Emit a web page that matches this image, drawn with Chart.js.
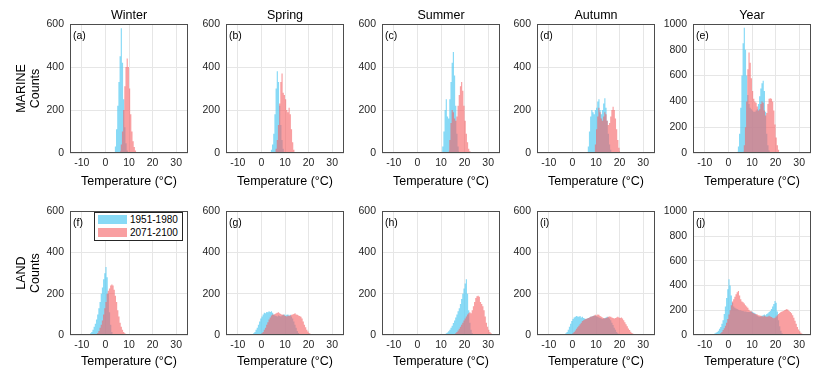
<!DOCTYPE html>
<html>
<head>
<meta charset="utf-8">
<script src="https://cdn.jsdelivr.net/npm/chart.js@4.4.1/dist/chart.umd.min.js"></script>
<style>
  html, body { margin: 0; padding: 0; background: #fff; }
  #page { position: relative; width: 830px; height: 373px; overflow: hidden; }
  #page canvas { position: absolute; }
  #legend {
    position: absolute; left: 94px; top: 212px; width: 89px; height: 29px;
    box-sizing: border-box; border: 1px solid #262626; background: #fff; z-index: 2;
    font: 10px 'Liberation Sans', Arial, sans-serif; color: #000;
  }
  #legend .row { position: absolute; left: 3px; height: 10px; line-height: 10px; white-space: nowrap; }
  #legend .sw { display: inline-block; width: 29px; height: 9px; vertical-align: top; margin-right: 3px; }
</style>
</head>
<body>
<div id="page">
  <div id="legend">
    <div class="row" style="top:2px"><span class="sw" id="swPast"></span><span id="lgPast"></span></div>
    <div class="row" style="top:15px"><span class="sw" id="swFuture"></span><span id="lgFuture"></span></div>
  </div>
</div>
<script>
// histogram bins are 0.5 °C wide; `from` is the centre of the first bin
var binWidth = 0.5;
var seasons = ['Winter', 'Spring', 'Summer', 'Autumn', 'Year'];
var periods = ['1951-1980', '2071-2100'];
var rowNames = ['MARINE', 'LAND'];
var letters = ['(a)', '(b)', '(c)', '(d)', '(e)', '(f)', '(g)', '(h)', '(i)', '(j)'];
var xTicks = [-10, 0, 10, 20, 30];
var xLabel = 'Temperature (°C)';

// marine, 1951-1980 (blue) and 2071-2100 (red)
var marineWinterPast = { from: 3.75, counts: [5, 30, 110, 220, 330, 450, 580, 420, 250, 120, 45, 12, 3] };
var marineWinterFuture = { from: 6.25, counts: [10, 40, 100, 200, 310, 400, 440, 400, 300, 180, 100, 55, 28, 12, 4] };
var marineSpringPast = { from: 3.75, counts: [5, 15, 40, 90, 180, 300, 380, 330, 220, 130, 60, 20, 5] };
var marineSpringFuture = { from: 5.75, counts: [5, 20, 60, 130, 230, 330, 370, 280, 270, 250, 200, 190, 210, 180, 110, 50, 15, 4] };
var marineSummerPast = { from: 10.25, counts: [5, 30, 100, 200, 250, 170, 160, 250, 330, 420, 470, 360, 220, 90, 30, 8] };
var marineSummerFuture = { from: 13.25, counts: [10, 60, 140, 200, 190, 160, 150, 170, 220, 270, 310, 330, 290, 220, 150, 90, 50, 20, 8, 3] };
var marineAutumnPast = { from: 6.25, counts: [5, 30, 100, 170, 200, 190, 180, 200, 210, 240, 250, 200, 180, 200, 230, 255, 210, 150, 90, 40, 15, 4] };
var marineAutumnFuture = { from: 9.25, counts: [5, 40, 110, 170, 210, 190, 160, 150, 170, 190, 180, 150, 130, 140, 170, 200, 215, 200, 160, 110, 60, 25, 8] };
var marineYearPast = { from: 3.75, counts: [10, 50, 150, 350, 600, 850, 970, 800, 600, 450, 380, 350, 340, 330, 320, 320, 330, 340, 380, 440, 500, 540, 560, 480, 320, 150, 60, 20, 5] };
var marineYearFuture = { from: 6.25, counts: [10, 60, 200, 400, 650, 780, 700, 580, 480, 420, 400, 390, 360, 330, 340, 380, 400, 390, 330, 290, 310, 380, 420, 425, 420, 400, 330, 220, 120, 60, 25, 8] };

// land
var landWinterPast = { from: -6.75, counts: [3, 8, 15, 25, 40, 55, 75, 100, 130, 160, 200, 230, 270, 300, 330, 280, 200, 110, 50, 15, 4] };
var landWinterFuture = { from: -3.75, counts: [3, 10, 20, 35, 50, 70, 100, 130, 160, 200, 215, 225, 240, 245, 240, 220, 190, 160, 120, 90, 60, 40, 25, 15, 8, 4, 2] };
var landSpringPast = { from: -3.75, counts: [3, 8, 15, 25, 35, 50, 65, 80, 90, 100, 108, 105, 112, 110, 115, 112, 115, 108, 100, 95, 92, 90, 95, 92, 90, 95, 98, 100, 95, 98, 100, 95, 98, 90, 80, 65, 50, 35, 20, 10, 4] };
var landSpringFuture = { from: -0.25, counts: [3, 8, 15, 25, 35, 50, 62, 75, 85, 95, 100, 98, 102, 105, 108, 110, 105, 102, 98, 100, 95, 92, 90, 95, 92, 95, 98, 100, 102, 105, 100, 98, 95, 92, 88, 80, 65, 50, 38, 26, 17, 10, 6, 3] };
var landSummerPast = { from: 11.75, counts: [3, 8, 12, 18, 25, 35, 45, 58, 70, 85, 100, 115, 130, 150, 175, 200, 225, 250, 270, 200, 120, 60, 25, 8, 3] };
var landSummerFuture = { from: 15.75, counts: [3, 8, 15, 22, 30, 40, 50, 60, 70, 80, 90, 100, 105, 110, 105, 120, 140, 160, 180, 188, 190, 185, 160, 150, 140, 120, 90, 60, 40, 25, 15, 8, 4, 2] };
var landAutumnPast = { from: -3.25, counts: [3, 8, 15, 25, 40, 55, 68, 78, 85, 88, 92, 90, 88, 92, 85, 88, 82, 80, 78, 80, 82, 85, 88, 90, 92, 95, 92, 90, 88, 85, 82, 80, 78, 80, 82, 85, 88, 85, 80, 72, 60, 48, 35, 25, 15, 8, 3] };
var landAutumnFuture = { from: -0.25, counts: [3, 8, 15, 22, 30, 38, 45, 52, 60, 68, 72, 75, 78, 80, 82, 85, 88, 90, 92, 95, 98, 95, 100, 98, 92, 88, 85, 82, 80, 82, 85, 88, 90, 88, 85, 82, 80, 82, 85, 88, 85, 82, 85, 80, 72, 62, 52, 42, 32, 24, 16, 10, 6, 3] };
var landYearPast = { from: -6.75, counts: [3, 8, 12, 18, 25, 35, 50, 65, 90, 120, 170, 230, 300, 370, 450, 400, 320, 260, 230, 220, 215, 210, 205, 200, 200, 195, 195, 190, 190, 188, 185, 185, 185, 190, 185, 180, 175, 165, 155, 150, 148, 150, 155, 160, 165, 160, 170, 175, 185, 195, 210, 230, 250, 275, 260, 190, 120, 70, 35, 15, 5] };
var landYearFuture = { from: -4.25, counts: [3, 8, 15, 25, 40, 55, 75, 100, 130, 165, 200, 240, 270, 290, 310, 330, 345, 355, 320, 290, 270, 265, 255, 240, 230, 220, 205, 195, 190, 180, 175, 170, 168, 165, 160, 158, 155, 152, 150, 155, 150, 148, 150, 155, 150, 145, 140, 135, 140, 150, 160, 170, 178, 185, 190, 195, 200, 205, 210, 205, 195, 185, 175, 160, 140, 115, 90, 65, 45, 30, 18, 10, 5] };

var yMaxes = [600, 600, 600, 600, 1000];

var rows = [
  [[marineWinterPast, marineWinterFuture], [marineSpringPast, marineSpringFuture], [marineSummerPast, marineSummerFuture], [marineAutumnPast, marineAutumnFuture], [marineYearPast, marineYearFuture]],
  [[landWinterPast, landWinterFuture], [landSpringPast, landSpringFuture], [landSummerPast, landSummerFuture], [landAutumnPast, landAutumnFuture], [landYearPast, landYearFuture]]
];

var blueFill = 'rgba(90, 204, 242, 0.72)';
var redFill = 'rgba(245, 95, 98, 0.6)';
var gridColor = '#e6e6e6';
var axisColor = '#4d4d4d';

Chart.defaults.font.family = "'Liberation Sans', Arial, sans-serif";
Chart.defaults.color = '#262626';

document.getElementById('swPast').style.background = blueFill;
document.getElementById('swFuture').style.background = redFill;
document.getElementById('lgPast').textContent = periods[0];
document.getElementById('lgFuture').textContent = periods[1];

function toPoints(h) {
  return h.counts.map(function(c, i) { return { x: h.from + i * binWidth, y: c }; });
}

// box around the axes + panel letter
var framePlugin = {
  id: 'frame',
  afterDatasetsDraw: function(chart, args, opts) {
    var ctx = chart.ctx, a = chart.chartArea;
    ctx.save();
    ctx.strokeStyle = axisColor;
    ctx.lineWidth = 1;
    ctx.strokeRect(Math.round(a.left) + 0.5, Math.round(a.top) + 0.5,
                   Math.round(a.right - a.left) - 1, Math.round(a.bottom - a.top) - 1);
    ctx.fillStyle = '#000';
    ctx.font = "10.5px 'Liberation Sans', Arial, sans-serif";
    ctx.textBaseline = 'middle';
    ctx.fillText(opts.letter, a.left + 3, a.top + 12);
    ctx.restore();
  }
};

var plotLefts = [70, 226, 382, 537, 693];
var plotWidth = 118;
var page = document.getElementById('page');

rows.forEach(function(hists, row) {
  hists.forEach(function(pair, col) {
    var L = col === 0 ? 70 : 42, R = 8;
    var canvas = document.createElement('canvas');
    canvas.width = L + plotWidth + R;
    canvas.height = row === 0 ? 195 : 174;
    canvas.style.left = (plotLefts[col] - L) + 'px';
    canvas.style.top = (row === 0 ? 0 : 199) + 'px';
    page.appendChild(canvas);

    new Chart(canvas, {
      type: 'line',
      data: {
        datasets: [
          { label: periods[1], data: toPoints(pair[1]), backgroundColor: redFill, borderColor: 'rgba(0,0,0,0)',
            borderWidth: 0, fill: 'origin', stepped: 'middle', pointRadius: 0, order: 0 },
          { label: periods[0], data: toPoints(pair[0]), backgroundColor: blueFill, borderColor: 'rgba(0,0,0,0)',
            borderWidth: 0, fill: 'origin', stepped: 'middle', pointRadius: 0, order: 1 }
        ]
      },
      options: {
        responsive: false,
        devicePixelRatio: 1,
        animation: false,
        events: [],
        layout: { padding: { top: row === 0 ? 0 : 7, right: R, bottom: 0, left: 0 } },
        plugins: {
          legend: { display: false },
          tooltip: { enabled: false },
          title: {
            display: row === 0, text: seasons[col], color: '#000', fullSize: false,
            font: { size: 12.5, weight: 'normal', lineHeight: 1.2 }, padding: { top: 8, bottom: 1 }
          },
          frame: { letter: letters[row * 5 + col] }
        },
        scales: {
          x: {
            type: 'linear', min: -15, max: 35,
            afterBuildTicks: function(s) { s.ticks = xTicks.map(function(v) { return { value: v }; }); },
            afterFit: function(s) { s.height = row === 0 ? 42 : 38; },
            ticks: { font: { size: 10.5 }, padding: 4, maxRotation: 0, autoSkip: false,
                     callback: function(v) { return String(v); } },
            grid: { color: gridColor, drawTicks: false },
            border: { display: false },
            title: {
              display: true, text: xLabel, color: '#000',
              font: { size: 12.5, lineHeight: 1.2 }, padding: { top: 0, bottom: row === 0 ? 6 : 4 }
            }
          },
          y: {
            min: 0, max: yMaxes[col],
            afterFit: function(s) { s.width = L; },
            ticks: { stepSize: 200, font: { size: 10.5 }, padding: 6,
                     callback: function(v) { return String(v); } },
            grid: { color: gridColor, drawTicks: false },
            border: { display: false },
            title: {
              display: col === 0, text: [rowNames[row], 'Counts'], color: '#000',
              font: { size: 12.5, lineHeight: 1.12 }, padding: { top: 15, bottom: 0 }
            }
          }
        }
      },
      plugins: [framePlugin]
    });
  });
});
</script>
</body>
</html>
